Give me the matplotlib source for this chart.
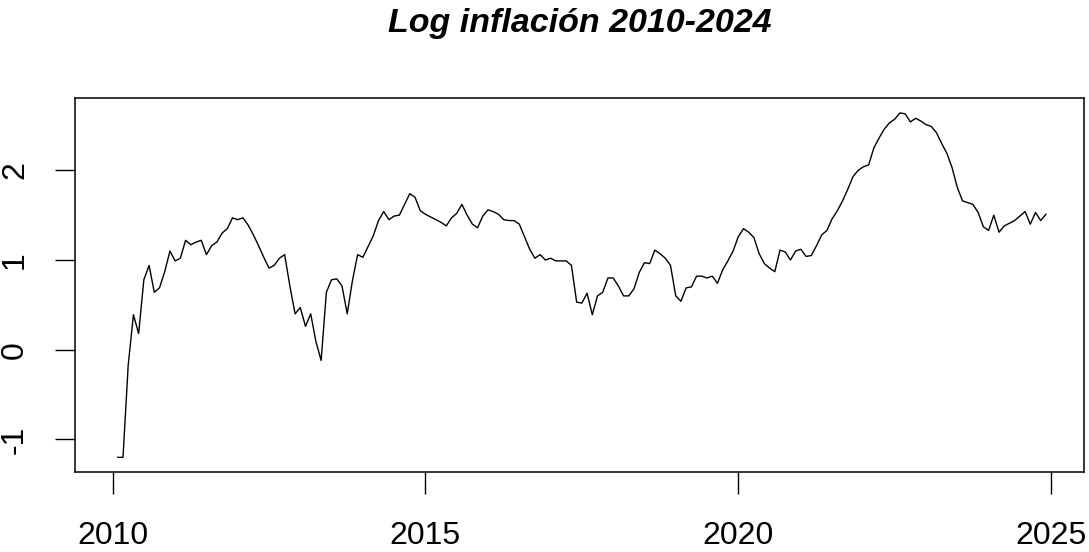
import numpy as np
import matplotlib
matplotlib.use('Agg')
import matplotlib.pyplot as plt


# monthly series, Jan 2010 - Dec 2024 (Jan 2010 is missing)
start_year = 2010
log_infl = [
    np.nan, -1.20, -1.20, -0.17, 0.39, 0.18, 0.78, 0.94, 0.64, 0.69, 0.87, 1.10,   # 2010
    0.99, 1.02, 1.22, 1.17, 1.20, 1.22, 1.06, 1.16, 1.20, 1.30, 1.35, 1.47,         # 2011
    1.45, 1.47, 1.39, 1.28, 1.16, 1.03, 0.91, 0.94, 1.02, 1.06, 0.71, 0.40,         # 2012
    0.47, 0.26, 0.40, 0.09, -0.12, 0.64, 0.78, 0.79, 0.71, 0.40, 0.77, 1.06,        # 2013
    1.03, 1.15, 1.27, 1.44, 1.54, 1.45, 1.49, 1.50, 1.62, 1.74, 1.70, 1.55,         # 2014
    1.51, 1.48, 1.45, 1.42, 1.38, 1.47, 1.52, 1.62, 1.50, 1.40, 1.36, 1.49,         # 2015
    1.56, 1.54, 1.51, 1.45, 1.44, 1.44, 1.40, 1.26, 1.12, 1.02, 1.06, 1.00,         # 2016
    1.02, 0.99, 0.99, 0.99, 0.94, 0.53, 0.52, 0.63, 0.39, 0.60, 0.64, 0.80,         # 2017
    0.80, 0.71, 0.60, 0.60, 0.68, 0.86, 0.97, 0.96, 1.11, 1.07, 1.02, 0.94,         # 2018
    0.60, 0.54, 0.69, 0.70, 0.82, 0.82, 0.80, 0.82, 0.74, 0.89, 0.99, 1.10,         # 2019
    1.26, 1.35, 1.31, 1.25, 1.07, 0.96, 0.91, 0.87, 1.11, 1.09, 1.00, 1.10,         # 2020
    1.12, 1.04, 1.05, 1.16, 1.28, 1.33, 1.46, 1.55, 1.66, 1.79, 1.93, 2.00,         # 2021
    2.04, 2.06, 2.25, 2.36, 2.46, 2.53, 2.57, 2.64, 2.63, 2.54, 2.58, 2.55,         # 2022
    2.51, 2.49, 2.42, 2.30, 2.19, 2.03, 1.81, 1.66, 1.64, 1.62, 1.53, 1.37,         # 2023
    1.33, 1.50, 1.31, 1.38, 1.41, 1.44, 1.49, 1.54, 1.40, 1.53, 1.44, 1.51,         # 2024
]
x_ticks = [2010, 2015, 2020, 2025]
y_ticks = [-1, 0, 1, 2]
title = 'Log inflación 2010-2024'

plt.rcParams['font.family'] = ['Liberation Sans', 'DejaVu Sans']

t = start_year + np.arange(len(log_infl)) / 12

fig = plt.figure(figsize=(10.89, 5.52), dpi=100)
ax = fig.add_axes([0.0689, 0.1444, 0.9268, 0.6775])
ax.plot(t, log_infl, color='black', lw=1.0)

ax.set_xlim(2009.40, 2025.53)
ax.set_ylim(-1.367, 2.803)
ax.set_xticks(x_ticks)
ax.set_yticks(y_ticks)
ax.set_yticklabels([str(v) for v in y_ticks], rotation=90, va='center')
ax.tick_params(axis='both', width=1.0, labelsize=23, color='black')
ax.tick_params(axis='x', length=16, pad=19)
ax.tick_params(axis='y', length=14.5, pad=18)
for s in ax.spines.values():
    s.set_linewidth(1.1)

fig.text(0.5323, 0.957, title, ha='center', va='center',
         fontsize=24.5, fontweight='bold', fontstyle='italic')

plt.savefig('out.png', dpi=100)
plt.close()
